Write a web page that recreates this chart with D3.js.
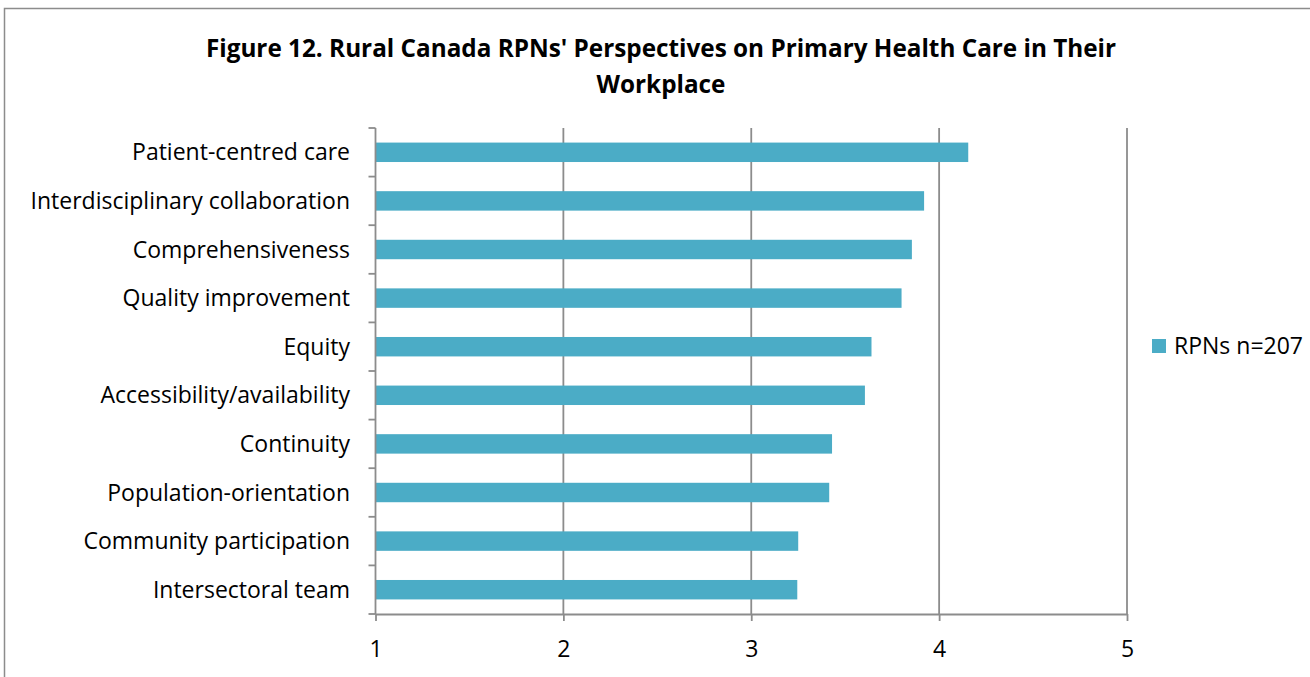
<!DOCTYPE html>
<html><head><meta charset="utf-8">
<script src="https://cdn.jsdelivr.net/npm/d3@7"></script>
<style>body{margin:0;background:#fff}svg{display:block}text{font-family:"Open Sans",sans-serif}</style>
</head><body>
<svg id="c" width="1310" height="677"></svg>
<script>
const categories = ["Patient-centred care","Interdisciplinary collaboration","Comprehensiveness","Quality improvement","Equity","Accessibility/availability","Continuity","Population-orientation","Community participation","Intersectoral team"];
const values = [4.155, 3.92, 3.855, 3.80, 3.64, 3.605, 3.43, 3.415, 3.25, 3.245];
const xTicks = [1,2,3,4,5];
const seriesName = "RPNs n=207";
const titleLines = ["Figure 12. Rural Canada RPNs' Perspectives on Primary Health Care in Their","Workplace"];

const svg = d3.select("#c");
const barColor = "#4BACC6", axisColor = "#8c8c8c";
svg.append("rect").attr("x",4.5).attr("y",8.5).attr("width",1320).attr("height",700)
  .attr("fill","#fff").attr("stroke","#8c8c8c").attr("stroke-width",1.5);

const L=375.5, R=1127, T=128, B=614;
const x = d3.scaleLinear().domain([1,5]).range([L,R]);
const y = d3.scaleBand().domain(categories).range([T,B]).paddingInner(0.6).paddingOuter(0.3);
const yb = d3.scaleBand().domain(categories).range([T,B]);

// title
svg.append("g").selectAll("text").data(titleLines).join("text")
  .attr("x",661).attr("y",(d,i)=>57+i*36).attr("text-anchor","middle")
  .attr("font-size",24.3).attr("font-weight","bold").attr("fill","#000").text(d=>d);

// gridlines
svg.append("g").selectAll("line").data(xTicks.slice(1)).join("line")
  .attr("x1",d=>x(d)).attr("x2",d=>x(d)).attr("y1",T).attr("y2",B)
  .attr("stroke",axisColor).attr("stroke-width",1.8);

// bars
svg.append("g").selectAll("rect").data(values).join("rect")
  .attr("x",x(1)).attr("y",(d,i)=>y(categories[i]))
  .attr("width",d=>x(d)-x(1)).attr("height",y.bandwidth())
  .attr("fill",barColor);

// x axis
const xa = svg.append("g").attr("transform",`translate(0,${B})`)
  .call(d3.axisBottom(x).tickValues(xTicks).tickFormat(d3.format("d")).tickSize(7).tickPadding(20).tickSizeOuter(0));
xa.select(".domain").attr("stroke",axisColor).attr("stroke-width",1.8);
xa.selectAll(".tick line").attr("stroke",axisColor).attr("stroke-width",1.8);
xa.selectAll("text").attr("font-size",23).attr("fill","#000").attr("font-family","'Open Sans', sans-serif");

// y axis: line + boundary ticks
svg.append("line").attr("x1",L).attr("x2",L).attr("y1",T).attr("y2",B).attr("stroke",axisColor).attr("stroke-width",1.8);
const bounds = categories.map(c=>yb(c)).concat([B]);
svg.append("g").selectAll("line").data(bounds).join("line")
  .attr("x1",L-7).attr("x2",L).attr("y1",d=>d).attr("y2",d=>d)
  .attr("stroke",axisColor).attr("stroke-width",1.8);
svg.append("g").selectAll("text").data(categories).join("text")
  .attr("x",350).attr("y",d=>yb(d)+yb.bandwidth()/2).attr("dy","0.35em")
  .attr("text-anchor","end").attr("font-size",23).attr("fill","#000").text(d=>d);

// legend
const lg = svg.append("g").attr("transform","translate(1152,339)");
lg.append("rect").attr("width",14).attr("height",14).attr("fill",barColor);
lg.append("text").attr("x",22).attr("y",7).attr("dy","0.35em").attr("font-size",23).attr("fill","#000").text(seriesName);
</script>
</body></html>
